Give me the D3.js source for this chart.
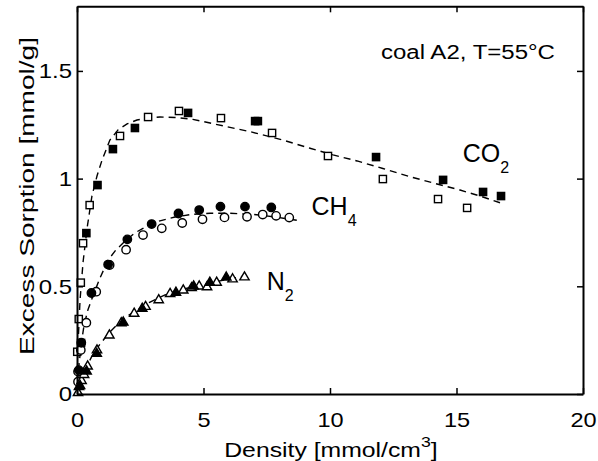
<!DOCTYPE html>
<html><head><meta charset="utf-8">
<script src="https://cdn.jsdelivr.net/npm/d3@7"></script>
<style>body{margin:0;background:#fff}text{font-family:"Liberation Sans",Arial,sans-serif;fill:#000}</style>
</head><body><svg id="c" width="598" height="461"></svg>
<script>
// ---- data (density mmol/cm3, excess sorption mmol/g) ----
const xTicks = [0, 5, 10, 15, 20];
const yTicks = [0, 0.5, 1, 1.5];
const yTickLabels = ["0", "0.5", "1", "1.5"];

const co2Filled = [[0.16,0.237],[0.37,0.747],[0.81,0.970],[1.42,1.137],[2.29,1.235],[4.39,1.305],[7.04,1.267],[7.15,1.267],[11.82,1.100],[14.47,0.994],[16.05,0.938],[16.76,0.919]];
const co2Open = [[0.01,0.196],[0.07,0.348],[0.15,0.517],[0.24,0.700],[0.50,0.877],[1.70,1.198],[2.81,1.286],[4.03,1.314],[5.69,1.281],[7.71,1.212],[9.92,1.105],[12.09,0.998],[14.27,0.905],[15.42,0.864]];
const co2Fit = [[0,0],[0.04,0.227],[0.12,0.436],[0.24,0.613],[0.40,0.771],[0.59,0.919],[0.79,1.012],[0.99,1.086],[1.30,1.179],[1.62,1.226],[1.98,1.254],[2.37,1.272],[2.77,1.281],[3.28,1.286],[3.87,1.284],[4.58,1.275],[5.26,1.258],[5.93,1.241],[6.84,1.218],[8.14,1.179],[9.21,1.141],[10.12,1.110],[11.07,1.082],[12.09,1.047],[13.16,1.009],[14.23,0.975],[15.14,0.947],[15.93,0.919],[16.72,0.888]];

const ch4Filled = [[0.07,0.111],[0.17,0.238],[0.57,0.469],[1.23,0.601],[1.99,0.718],[2.95,0.789],[4.01,0.838],[4.83,0.854],[5.67,0.870],[6.64,0.870],[7.68,0.866]];
const ch4Open = [[0.04,0.057],[0.04,0.104],[0.15,0.204],[0.37,0.331],[0.76,0.475],[1.29,0.599],[1.94,0.670],[2.61,0.738],[3.35,0.769],[4.16,0.794],[4.96,0.811],[5.83,0.820],[6.72,0.823],[7.34,0.833],[7.87,0.827],[8.39,0.819]];
const ch4Fit = [[0,0],[0.04,0.111],[0.08,0.135],[0.16,0.227],[0.28,0.320],[0.43,0.390],[0.63,0.455],[0.91,0.539],[1.23,0.622],[1.54,0.669],[1.90,0.710],[2.29,0.748],[2.77,0.780],[3.28,0.804],[3.87,0.822],[4.55,0.834],[5.26,0.839],[6.05,0.839],[6.96,0.834],[7.83,0.822],[8.77,0.805]];

const n2Filled = [[0.12,0.042],[0.38,0.109],[0.78,0.191],[1.83,0.336],[2.58,0.400],[3.91,0.475],[4.61,0.504],[5.25,0.521],[5.90,0.545]];
const n2Open = [[0.04,0.009],[0.08,0.037],[0.18,0.065],[0.28,0.093],[0.42,0.132],[0.79,0.207],[1.28,0.276],[1.75,0.333],[2.26,0.377],[2.71,0.409],[3.23,0.440],[3.68,0.469],[4.20,0.485],[4.53,0.496],[4.83,0.504],[5.14,0.500],[5.52,0.521],[6.15,0.537],[6.62,0.546]];
const n2Fit = [[0,0],[0.12,0.046],[0.32,0.111],[0.59,0.176],[0.91,0.232],[1.30,0.288],[1.78,0.344],[2.29,0.385],[2.89,0.427],[3.48,0.460],[4.07,0.483],[4.86,0.506],[5.65,0.525],[6.64,0.548]];

// ---- layout ----
const L = 77, R = 583, T = 6.3, B = 394;
const svg = d3.select("#c");
const x = d3.scaleLinear().domain([0, 20]).range([L, R]);
const y = d3.scaleLinear().domain([0, 1.8]).range([B, T]);
const FS = 21;

function stretch(sel, k) {
  sel.each(function () {
    const w = this.getComputedTextLength();
    this.setAttribute("textLength", w * k);
    this.setAttribute("lengthAdjust", "spacingAndGlyphs");
  });
}

// fit lines
const line = d3.line().x(d => x(d[0])).y(d => y(d[1]));
[co2Fit, ch4Fit, n2Fit].forEach(f => {
  svg.append("path").attr("d", line(f)).attr("fill", "none")
    .attr("stroke", "#000").attr("stroke-width", 1.4).attr("stroke-dasharray", "7,5");
});

// markers
function squares(data, filled) {
  svg.append("g").selectAll("rect").data(data).join("rect")
    .attr("x", d => x(d[0]) - 3.6).attr("y", d => y(d[1]) - 3.6)
    .attr("width", 7.2).attr("height", 7.2)
    .attr("fill", filled ? "#000" : "#fff").attr("stroke", "#000").attr("stroke-width", 1.4);
}
function circles(data, filled) {
  svg.append("g").selectAll("circle").data(data).join("circle")
    .attr("cx", d => x(d[0])).attr("cy", d => y(d[1])).attr("r", 4.2)
    .attr("fill", filled ? "#000" : "#fff").attr("stroke", "#000").attr("stroke-width", 1.4);
}
const tri = d3.symbol().type(d3.symbolTriangle).size(38);
function triangles(data, filled) {
  svg.append("g").selectAll("path").data(data).join("path")
    .attr("d", tri).attr("transform", d => `translate(${x(d[0])},${y(d[1]) + 0.8})`)
    .attr("fill", filled ? "#000" : "#fff").attr("stroke", "#000").attr("stroke-width", 1.4);
}
squares(co2Open, false); squares(co2Filled, true);
circles(ch4Open, false); circles(ch4Filled, true);
triangles(n2Open, false); triangles(n2Filled, true);

// axes
const gx = svg.append("g").attr("transform", `translate(0,${B})`)
  .call(d3.axisBottom(x).tickValues(xTicks).tickFormat(d3.format("d")).tickSizeInner(-6).tickSizeOuter(0).tickPadding(18));
const gy = svg.append("g").attr("transform", `translate(${L},0)`)
  .call(d3.axisLeft(y).tickValues(yTicks).tickFormat((d, i) => yTickLabels[i]).tickSizeInner(-6).tickSizeOuter(0).tickPadding(5));
const gt = svg.append("g").attr("transform", `translate(0,${T})`)
  .call(d3.axisTop(x).tickValues(xTicks).tickFormat("").tickSizeInner(-6).tickSizeOuter(0));
const gr = svg.append("g").attr("transform", `translate(${R},0)`)
  .call(d3.axisRight(y).tickValues(yTicks).tickFormat("").tickSizeInner(-6).tickSizeOuter(0));
[gx, gy, gt, gr].forEach(g => {
  g.select(".domain").attr("stroke", "#000").attr("stroke-width", 2);
  g.selectAll(".tick line").attr("stroke", "#000").attr("stroke-width", 1.5);
  g.selectAll("text").attr("font-size", FS).attr("font-family", "Liberation Sans, Arial, sans-serif").attr("fill", "#000");
});
stretch(gx.selectAll("text"), 1.12);
stretch(gy.selectAll("text"), 1.14);

// axis titles
const xl = svg.append("text").attr("x", 331).attr("y", 457).attr("text-anchor", "middle").attr("font-size", FS);
xl.append("tspan").text("Density [mmol/cm");
xl.append("tspan").attr("font-size", 15).attr("dy", -10).text("3");
xl.append("tspan").attr("dy", 10).text("]");
xl.attr("transform", "translate(331,0) scale(1.18,1) translate(-331,0)");

const yl = svg.append("text").attr("transform", "translate(34,196) rotate(-90)")
  .attr("text-anchor", "middle").attr("font-size", FS)
  .text("Excess Sorption [mmol/g]");
yl.attr("textLength", 318).attr("lengthAdjust", "spacingAndGlyphs");

// annotation
const ann = svg.append("text").attr("x", 381).attr("y", 59).attr("font-size", 20).text("coal A2, T=55°C");
stretch(ann, 1.2);

// series labels
function label(px, py, main, sub) {
  const t = svg.append("text").attr("x", px).attr("y", py).attr("font-size", 25);
  t.append("tspan").text(main);
  t.append("tspan").attr("font-size", 16).attr("dy", 11).text(sub);
}
label(x(15.25), y(1.075), "CO", "2");
label(x(9.27), y(0.832), "CH", "4");
label(x(7.5), y(0.485), "N", "2");
</script></body></html>
